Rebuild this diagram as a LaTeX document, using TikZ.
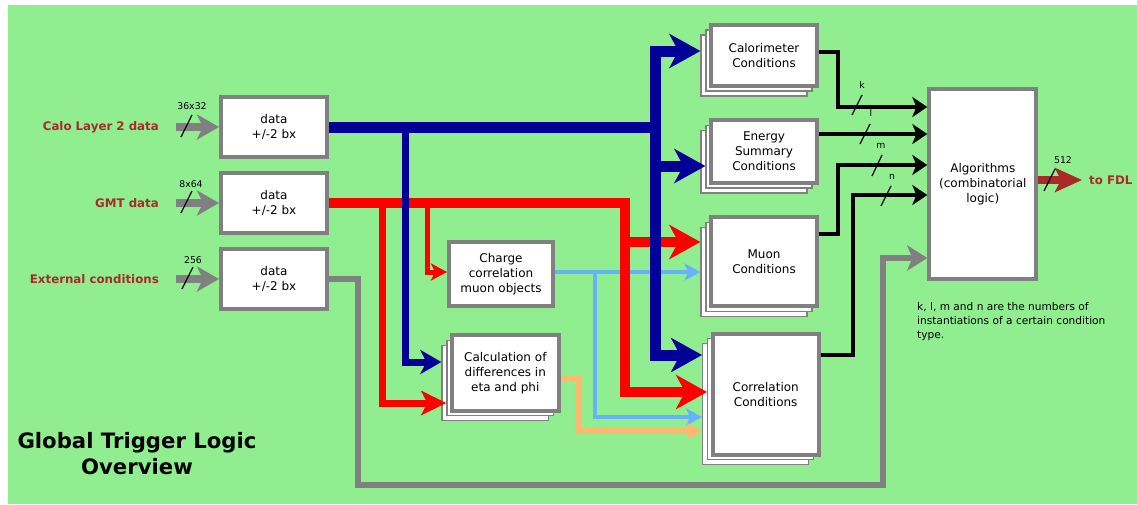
\documentclass[tikz,border=0pt]{standalone}
\usepackage{fontspec}
\setmainfont{DejaVu Sans}
\usetikzlibrary{arrows.meta}
\definecolor{bg}{HTML}{90EE90}
\definecolor{gr}{HTML}{808080}
\definecolor{nb}{HTML}{000099}
\definecolor{rd}{HTML}{FF0000}
\definecolor{lb}{HTML}{66B2FF}
\definecolor{og}{HTML}{FFB870}
\definecolor{lbl}{HTML}{AA2A2A}
\tikzset{
  box/.style={draw=gr, line width=4pt, fill=white, align=center, inner sep=0pt, font=\fontsize{12}{15}\selectfont},
  back/.style={draw=gr, line width=1.2pt, fill=white, inner sep=0pt},
  inlbl/.style={text=lbl, font=\bfseries\fontsize{11.8}{14}\selectfont, inner sep=0pt},
  small/.style={font=\fontsize{9.3}{11}\selectfont, inner sep=0pt},
  slash/.style={line width=1.2pt, black},
  inarr/.style={gr, line width=8.5pt, -{Stealth[length=22pt,width=25pt,inset=6pt]}},
  bigblue/.style={nb, line width=11pt, line join=miter},
  bigred/.style={rd, line width=10pt, line join=miter},
  bigtip/.style={-{Stealth[length=31pt,width=34pt,inset=9pt]}},
  thintip/.style={-{Stealth[length=16pt,width=17pt,inset=4pt]}},
  blktip/.style={-{Stealth[length=15pt,width=20pt,inset=4pt]}},
  grtip/.style={-{Stealth[length=20pt,width=25pt,inset=5pt]}},
}
\newcommand\stk[6]{%
  \node[back, minimum width=#4, minimum height=#5] (#1A) at (#2-10,#3+10) {};
  \node[back, minimum width=#4, minimum height=#5] (#1B) at (#2-5,#3+5) {};
  \node[box, minimum width=#4, minimum height=#5] (#1) at (#2,#3) {#6};
}
\begin{document}
\begin{tikzpicture}[x=1pt,y=-1pt]
\useasboundingbox (0,0) rectangle (1137,504);
\fill[white] (0,0) rectangle (1137,504);
\fill[bg] (8,5) rectangle (1137,504);

% data boxes
\node[box, minimum width=106, minimum height=60] (d1) at (274,127) {data\\+/-2 bx};
\node[box, minimum width=106, minimum height=60] (d2) at (274,203) {data\\+/-2 bx};
\node[box, minimum width=106, minimum height=60] (d3) at (274,279) {data\\+/-2 bx};

% input labels
\node[inlbl, anchor=east] (l1) at (159,127) {Calo Layer 2 data};
\node[inlbl, anchor=east] (l2) at (159,203) {GMT data};
\node[inlbl, anchor=east] (l3) at (159,279) {External conditions};

% input arrows
\coordinate (i1) at (176,127);
\coordinate (i2) at (176,203);
\coordinate (i3) at (176,279);
\draw[inarr] (i1) -- (d1.west);
\draw[inarr] (i2) -- (d2.west);
\draw[inarr] (i3) -- (d3.west);
\draw[slash] (181,137) -- (192,115);
\draw[slash] (181,213) -- (192,191);
\draw[slash] (182,289) -- (193,267);
\node[small] (n1) at (192,106) {36x32};
\node[small] (n2) at (191,184) {8x64};
\node[small] (n3) at (193,260) {256};

% processing boxes
\node[box, minimum width=104, minimum height=64] (chg) at (501,274) {Charge\\correlation\\muon objects};
\stk{dif}{505.3}{373}{106.7}{75.4}{Calculation of\\differences in\\eta and phi}

% condition boxes
\stk{cal}{764}{55.5}{106}{61}{Calorimeter\\Conditions}
\stk{en}{764}{151.7}{106}{62.7}{Energy\\Summary\\Conditions}
\stk{mu}{764}{261.7}{106}{89}{Muon\\Conditions}
\stk{cor}{765.7}{394.2}{106}{121}{Correlation\\Conditions}

\node[box, minimum width=107, minimum height=189.4] (alg) at (982.8,184) {Algorithms\\(combinatorial\\logic)};

% light blue
\draw[lb, line width=4pt, thintip] (chg.east |- 0,272) -- (muA.west |- 0,272);
\draw[lb, line width=4pt, thintip, line join=miter] (595,272) -- (595,417) -- (corA.west |- 0,417);

% orange
\draw[og, line width=6pt, thintip, line join=miter] (dif.east |- 0,378) -- (578,378) -- (578,431) -- (corA.west |- 0,431);

% red
\draw[bigred, bigtip] (d2.east) -- (625,203) -- (625,392) -- (corB.west |- 0,392);
\draw[bigred, bigtip] (625,242) -- (muA.west |- 0,242);
\draw[rd, line width=7pt, line join=miter, -{Stealth[length=25pt,width=24pt,inset=6pt]}] (382,203) -- (382,403) -- (difB.west |- 0,403);
\draw[rd, line width=5pt, line join=miter, thintip] (427,203) -- (427,272) -- (chg.west |- 0,272);

% blue
\draw[bigblue] (d1.east) -- (655,127);
\draw[bigblue, {Stealth[length=31pt,width=34pt,inset=9pt]}-{Stealth[length=31pt,width=34pt,inset=9pt]}] (calA.west |- 0,51) -- (655,51) -- (655,355) -- (corA.west |- 0,355);
\draw[bigblue, bigtip] (655,166) -- (enB.west |- 0,166);
\draw[nb, line width=7pt, line join=miter, -{Stealth[length=21pt,width=24pt,inset=6pt]}] (405,127) -- (405,362) -- (difA.west |- 0,362);

% black to algorithms
\draw[line width=4.5pt, line join=miter, blktip] (cal.east |- 0,52) -- (838,52) -- (838,107) -- (alg.west |- 0,107);
\draw[line width=4.5pt, blktip] (en.east |- 0,134) -- (alg.west |- 0,134);
\draw[line width=4.5pt, line join=miter, blktip] (mu.east |- 0,234) -- (838,234) -- (838,165) -- (alg.west |- 0,165);
\draw[line width=4.5pt, line join=miter, blktip] (cor.east |- 0,355) -- (853,355) -- (853,195) -- (alg.west |- 0,195);
\draw[slash] (852,115) -- (862,95);
\draw[slash] (860,144) -- (870,124);
\draw[slash] (872,176) -- (882,155);
\draw[slash] (881,206) -- (891,186);
\node[small] (kk) at (862,85) {k};
\node[small] (ll) at (871,113) {l};
\node[small] (mm) at (881,146) {m};
\node[small] (nn) at (892,177) {n};

% gray external path
\draw[gr, line width=6pt, line join=miter, grtip] (d3.east) -- (358,279) -- (358,485) -- (883,485) -- (883,258) -- (alg.west |- 0,258);

% output
\node[inlbl, anchor=west, inner xsep=7pt] (fdl) at (1082,180) {to FDL};
\draw[lbl, line width=8pt, -{Stealth[length=27pt,width=24pt,inset=6pt]}] (alg.east |- 0,180) -- (fdl.west);
\draw[slash] (1044,191) -- (1055,169);
\node[small] (n512) at (1063,160) {512};

% note
\node[anchor=north west, align=left, inner sep=0pt, font=\fontsize{10.6}{14}\selectfont] (note) at (917,302) {k, l, m and n are the numbers of\\instantiations of a certain condition\\type.};

% title
\node[align=center, inner sep=0pt, font=\bfseries\fontsize{21.2}{26}\selectfont] (title) at (137,454) {Global Trigger Logic\\Overview};
\end{tikzpicture}
\end{document}
